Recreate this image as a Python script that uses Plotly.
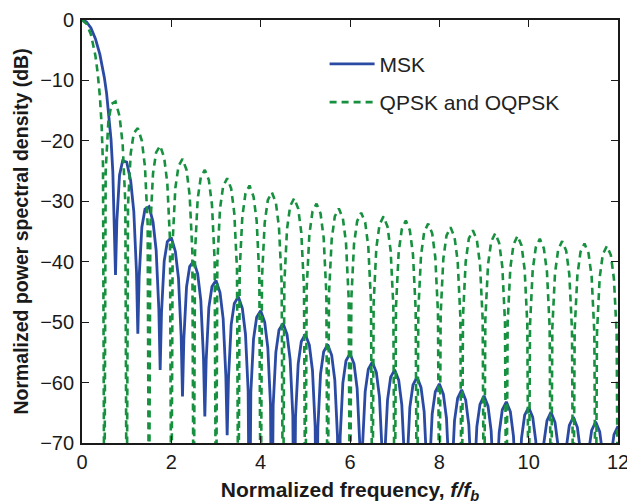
import plotly.graph_objects as go

# ------------------------------
# Values (normalized PSD in dB vs f/fb)
# nulls that run off the bottom of the chart are set to -90

qpsk_f = [
    0.0, 0.1, 0.2, 0.3, 0.35, 0.4, 0.44, 0.47, 0.5,
    0.53, 0.59, 0.66, 0.75, 0.84, 0.91, 0.97, 1.0,
    1.03, 1.09, 1.16, 1.25, 1.34, 1.41, 1.47, 1.5,
    1.53, 1.59, 1.66, 1.75, 1.84, 1.91, 1.97, 2.0,
    2.03, 2.09, 2.16, 2.25, 2.34, 2.41, 2.47, 2.5,
    2.53, 2.59, 2.66, 2.75, 2.84, 2.91, 2.97, 3.0,
    3.03, 3.09, 3.16, 3.25, 3.34, 3.41, 3.47, 3.5,
    3.53, 3.59, 3.66, 3.75, 3.84, 3.91, 3.97, 4.0,
    4.03, 4.09, 4.16, 4.25, 4.34, 4.41, 4.47, 4.5,
    4.53, 4.59, 4.66, 4.75, 4.84, 4.91, 4.97, 5.0,
    5.03, 5.09, 5.16, 5.25, 5.34, 5.41, 5.47, 5.5,
    5.53, 5.59, 5.66, 5.75, 5.84, 5.91, 5.97, 6.0,
    6.03, 6.09, 6.16, 6.25, 6.34, 6.41, 6.47, 6.5,
    6.53, 6.59, 6.66, 6.75, 6.84, 6.91, 6.97, 7.0,
    7.03, 7.09, 7.16, 7.25, 7.34, 7.41, 7.47, 7.5,
    7.53, 7.59, 7.66, 7.75, 7.84, 7.91, 7.97, 8.0,
    8.03, 8.09, 8.16, 8.25, 8.34, 8.41, 8.47, 8.5,
    8.53, 8.59, 8.66, 8.75, 8.84, 8.91, 8.97, 9.0,
    9.03, 9.09, 9.16, 9.25, 9.34, 9.41, 9.47, 9.5,
    9.53, 9.59, 9.66, 9.75, 9.84, 9.91, 9.97, 10.0,
    10.03, 10.09, 10.16, 10.25, 10.34, 10.41, 10.47, 10.5,
    10.53, 10.59, 10.66, 10.75, 10.84, 10.91, 10.97, 11.0,
    11.03, 11.09, 11.16, 11.25, 11.34, 11.41, 11.47, 11.5,
    11.53, 11.59, 11.66, 11.75, 11.84, 11.91, 11.97, 12.0,
]
qpsk_db = [
    0.0, -0.6, -2.4, -5.9, -8.7, -12.6, -17.5, -24.0, -90,
    -25.0, -16.8, -13.9, -13.5, -15.9, -20.5, -30.2, -90,
    -30.7, -22.1, -18.7, -17.9, -20.0, -24.3, -33.8, -90,
    -34.2, -25.4, -21.9, -20.8, -22.8, -27.0, -36.4, -90,
    -36.6, -27.8, -24.2, -23.0, -24.8, -29.0, -38.3, -90,
    -38.5, -29.6, -26.0, -24.8, -26.5, -30.6, -39.9, -90,
    -40.1, -31.2, -27.5, -26.2, -27.9, -32.0, -41.3, -90,
    -41.4, -32.5, -28.7, -27.4, -29.2, -33.2, -42.4, -90,
    -42.6, -33.6, -29.8, -28.5, -30.2, -34.3, -43.5, -90,
    -43.6, -34.6, -30.8, -29.5, -31.2, -35.2, -44.4, -90,
    -44.5, -35.5, -31.7, -30.4, -32.0, -36.0, -45.2, -90,
    -45.3, -36.3, -32.5, -31.2, -32.8, -36.8, -46.0, -90,
    -46.1, -37.1, -33.3, -31.9, -33.5, -37.5, -46.7, -90,
    -46.8, -37.7, -33.9, -32.5, -34.2, -38.2, -47.3, -90,
    -47.4, -38.4, -34.6, -33.2, -34.8, -38.8, -47.9, -90,
    -48.0, -39.0, -35.1, -33.7, -35.3, -39.3, -48.5, -90,
    -48.6, -39.5, -35.7, -34.3, -35.9, -39.9, -49.0, -90,
    -49.1, -40.0, -36.2, -34.8, -36.4, -40.4, -49.5, -90,
    -49.6, -40.5, -36.7, -35.3, -36.9, -40.8, -50.0, -90,
    -50.0, -41.0, -37.2, -35.7, -37.3, -41.3, -50.4, -90,
    -50.5, -41.4, -37.6, -36.2, -37.8, -41.7, -50.9, -90,
    -50.9, -41.9, -38.0, -36.6, -38.2, -42.1, -51.3, -90,
    -51.3, -42.3, -38.4, -37.0, -38.6, -42.5, -51.7, -90,
    -51.7, -42.6, -38.8, -37.4, -38.9, -42.9, -52.0, -90,
]

msk_f = [
    0.0, 0.1, 0.2, 0.25, 0.3, 0.4, 0.5, 0.55, 0.6, 0.65, 0.69, 0.72, 0.75,
    0.78, 0.84, 0.91, 1.0, 1.09, 1.16, 1.22, 1.25,
    1.28, 1.34, 1.41, 1.5, 1.59, 1.66, 1.72, 1.75,
    1.78, 1.84, 1.91, 2.0, 2.09, 2.16, 2.22, 2.25,
    2.28, 2.34, 2.41, 2.5, 2.59, 2.66, 2.72, 2.75,
    2.78, 2.84, 2.91, 3.0, 3.09, 3.16, 3.22, 3.25,
    3.28, 3.34, 3.41, 3.5, 3.59, 3.66, 3.72, 3.75,
    3.78, 3.84, 3.91, 4.0, 4.09, 4.16, 4.22, 4.25,
    4.28, 4.34, 4.41, 4.5, 4.59, 4.66, 4.72, 4.75,
    4.78, 4.84, 4.91, 5.0, 5.09, 5.16, 5.22, 5.25,
    5.28, 5.34, 5.41, 5.5, 5.59, 5.66, 5.72, 5.75,
    5.78, 5.84, 5.91, 6.0, 6.09, 6.16, 6.22, 6.25,
    6.28, 6.34, 6.41, 6.5, 6.59, 6.66, 6.72, 6.75,
    6.78, 6.84, 6.91, 7.0, 7.09, 7.16, 7.22, 7.25,
    7.28, 7.34, 7.41, 7.5, 7.59, 7.66, 7.72, 7.75,
    7.78, 7.84, 7.91, 8.0, 8.09, 8.16, 8.22, 8.25,
    8.28, 8.34, 8.41, 8.5, 8.59, 8.66, 8.72, 8.75,
    8.78, 8.84, 8.91, 9.0, 9.09, 9.16, 9.22, 9.25,
    9.28, 9.34, 9.41, 9.5, 9.59, 9.66, 9.72, 9.75,
    9.78, 9.84, 9.91, 10.0, 10.09, 10.16, 10.22, 10.25,
    10.28, 10.34, 10.41, 10.5, 10.59, 10.66, 10.72, 10.75,
    10.78, 10.84, 10.91, 11.0, 11.09, 11.16, 11.22, 11.25,
    11.28, 11.34, 11.41, 11.5, 11.59, 11.66, 11.72, 11.75,
    11.78, 11.84, 11.91, 12.0,
]
msk_db = [
    0.0, -0.3, -1.3, -2.1, -3.1, -5.7, -9.5, -12.1, -15.4, -19.8, -25.1, -31.8, -42.2,
    -33.3, -25.7, -23.3, -23.5, -26.6, -31.7, -41.7, -51.9,
    -42.5, -34.3, -31.3, -30.9, -33.4, -38.1, -47.8, -57.9,
    -48.4, -39.9, -36.7, -36.0, -38.3, -42.7, -52.3, -62.3,
    -52.8, -44.2, -40.8, -39.9, -42.0, -46.4, -55.9, -65.6,
    -56.3, -47.6, -44.1, -43.1, -45.1, -49.4, -58.8, -68.7,
    -59.2, -50.4, -46.9, -45.8, -47.7, -52.0, -61.4, -90,
    -61.6, -52.8, -49.2, -48.1, -50.0, -54.2, -63.6, -90,
    -63.8, -55.0, -51.3, -50.2, -52.0, -56.2, -65.5, -90,
    -65.7, -56.9, -53.2, -52.0, -53.8, -58.0, -67.3, -90,
    -67.5, -58.6, -54.9, -53.7, -55.5, -59.6, -68.9, -90,
    -69.0, -60.1, -56.4, -55.2, -56.9, -61.0, -70.3, -90,
    -70.5, -61.5, -57.8, -56.6, -58.3, -62.4, -71.7, -90,
    -71.8, -62.9, -59.1, -57.9, -59.6, -63.7, -72.9, -90,
    -73.1, -64.1, -60.4, -59.1, -60.8, -64.8, -74.1, -90,
    -74.2, -65.2, -61.5, -60.2, -61.9, -65.9, -75.2, -90,
    -75.3, -66.3, -62.6, -61.2, -62.9, -67.0, -76.2, -90,
    -76.3, -67.3, -63.6, -62.2, -63.9, -68.0, -77.2, -90,
    -77.3, -68.3, -64.5, -63.2, -64.8, -68.9, -78.1, -90,
    -78.2, -69.2, -65.4, -64.1, -65.7, -69.7, -78.9, -90,
    -79.0, -70.0, -66.3, -64.9, -66.6, -70.6, -79.8, -90,
    -79.9, -70.9, -67.1, -65.7, -67.4, -71.4, -80.6, -90,
    -80.7, -71.6, -67.9, -66.5, -68.1, -72.1, -81.3, -90,
    -81.4, -72.4, -68.6, -67.2,
]

x_ticks = [0, 2, 4, 6, 8, 10, 12]
y_ticks = [0, -10, -20, -30, -40, -50, -60, -70]

blue = "#2a4aa3"
green = "#17903f"
ink = "#1a1a1a"
font_family = "Liberation Sans, Arial, sans-serif"

fig = go.Figure()

fig.add_trace(go.Scatter(
    x=msk_f, y=msk_db, mode="lines", name="MSK",
    legendgroup="msk",
    line=dict(color=blue, width=2.8),
))
fig.add_trace(go.Scatter(
    x=qpsk_f, y=qpsk_db, mode="lines", name="QPSK and OQPSK",
    legendgroup="qpsk",
    line=dict(color=green, width=2.6, dash="7px,5px"),
))

axis_common = dict(
    showline=True, linecolor=ink, linewidth=1.8, mirror="ticks",
    ticks="inside", ticklen=7, tickwidth=1.3, tickcolor=ink,
    showgrid=False, zeroline=False, automargin=False,
    ticklabeloverflow="allow",
    tickfont=dict(family=font_family, size=20, color=ink),
)

fig.update_xaxes(
    range=[0, 12], tickvals=x_ticks,
    title=dict(text="<b>Normalized frequency, <i>f/f<sub>b</sub></i></b>",
               font=dict(family=font_family, size=21, color=ink), standoff=10),
    **axis_common,
)
fig.update_yaxes(
    range=[-70, 0], tickvals=y_ticks, ticklabelstandoff=2,
    title=dict(text="<b>Normalized power spectral density (dB)</b>",
               font=dict(family=font_family, size=19.5, color=ink), standoff=6),
    **axis_common,
)

fig.update_layout(
    width=627, height=504,
    margin=dict(l=82, r=9, t=20, b=61),
    paper_bgcolor="white", plot_bgcolor="white",
    font=dict(family=font_family, size=20, color=ink),
    legend=dict(
        x=0.4526, y=0.944, xanchor="left", yanchor="top",
        bgcolor="rgba(0,0,0,0)", borderwidth=0,
        traceorder="grouped", tracegroupgap=8, itemwidth=45,
        font=dict(family=font_family, size=21, color="#222"),
    ),
)

# drop the default 8px body margin so the figure fills the window exactly
fig.write_html("out.html", config={"displayModeBar": False},
               post_script="document.body.style.margin = '0';")
